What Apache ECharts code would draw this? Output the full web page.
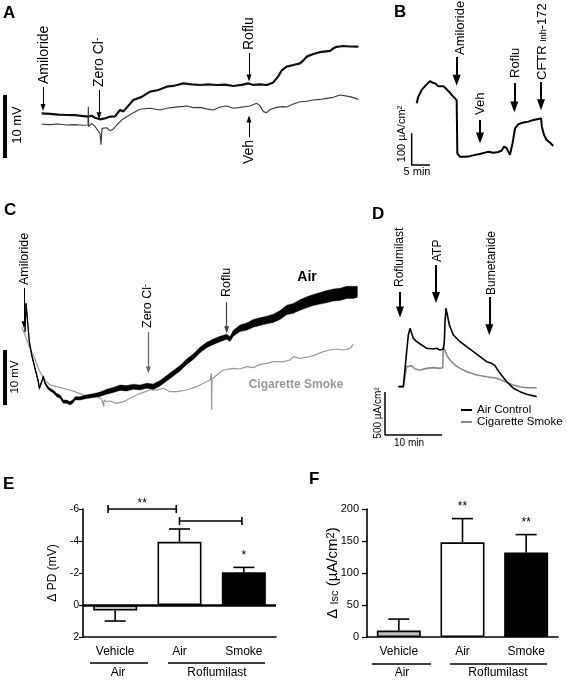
<!DOCTYPE html>
<html><head><meta charset="utf-8">
<script src="https://cdn.jsdelivr.net/npm/echarts@6/dist/echarts.min.js"></script>
<style>html,body{margin:0;padding:0;background:#fff}#c{width:567px;height:682px}</style>
</head><body><div id="c"></div>
<script>
const FONT = '"Liberation Sans", Arial, Helvetica, sans-serif';

// ---------- Panel A: PD traces (x: time, y: mV) ----------
const A_roflu = [[12.5,9.39],[15,9.3],[17.5,9.2],[20,9.13],[22.5,9.1],[25,8.95],[26.5,8.86],[27.5,9.0],[28.5,8.7],[30,8.44],[31.5,8.6],[33,8.86],[34.5,8.9],[36,9.92],[37,9.7],[38,10.3],[40,11.51],[42.5,12.0],[45,12.83],[47.5,13.1],[50,13.62],[52.5,13.8],[55,14.15],[57.5,14.0],[60,13.89],[62.5,14.0],[65,13.89],[67.5,13.95],[70,13.73],[72.5,13.9],[74.5,14.15],[76,13.9],[78,14.0],[80,13.89],[82,14.3],[83.5,15.3],[84.5,16.2],[86,16.8],[88,17.06],[90,17.33],[91,17.8],[92,18.39],[94,18.8],[96,19.1],[99,19.3],[100,19.71],[101,19.95],[103,20.08],[105,20.0],[107.5,19.97]];
const A_veh = [[12.5,7.65],[15,7.6],[17.5,7.7],[20,7.54],[22.5,7.6],[25,7.5],[26.4,7.54],[26.5,10.45],[26.6,7.3],[27.5,7.8],[28.5,7.3],[29,7.01],[30,6.2],[30.3,4.4],[30.6,7.0],[31,7.28],[32,7.1],[33,6.64],[34,6.9],[35,7.54],[36.5,8.33],[38,8.86],[40,9.5],[42,10.03],[45,10.19],[48,9.92],[50,10.2],[52,10.34],[55,10.5],[56,10.56],[58,10.3],[60,10.34],[62,10.1],[64,9.92],[66,10.4],[68,10.56],[70,10.2],[72,10.34],[75,10.56],[77,10.98],[78,10.6],[79,9.66],[80,9.5],[81,10.0],[83,10.34],[85,10.45],[86,10.4],[88,10.87],[90,11.24],[92,11.3],[94,11.51],[96,11.6],[98,11.77],[100,11.93],[102,12.30],[105,12.04],[107.5,11.61]];

// ---------- Panel B: Isc trace (x: min, y: uA/cm2) ----------
const B_isc = [[1.36,195],[1.82,216],[2.73,237],[3.64,249],[5.0,265],[5.73,260],[6.36,258],[7.27,249],[7.73,245],[8.64,249],[9.55,239],[10.45,228],[11.36,216],[12.27,205],[12.45,37],[13.18,26],[14.5,26],[15.9,28],[17.3,32],[18.6,35],[20,39],[20.9,42],[22.3,39],[23.6,41],[24.5,45],[25.2,58],[25.9,53],[26.8,32],[27.5,68],[28.2,116],[29.1,129],[30.5,134],[31.8,137],[33.2,142],[34.5,145],[35.3,147],[35.5,121],[36.1,95],[36.8,79],[37.7,71],[38.6,60]];

// ---------- Panel C: PD traces (x: time, y: mV); Air = [x, mean, noise half-width] ----------
const C_air = [[7.5,15.15,0.1],[7.8,20.3,0.1],[8.0,19.0,0.1],[8.8,13.33,0.15],[9.5,10.91,0.2],[10.5,8.48,0.2],[11.5,6.06,0.2],[11.8,4.85,0.2],[12.5,6.06,0.2],[13.0,6.97,0.2],[13.5,5.8,0.2],[14.5,4.85,0.25],[16,4.24,0.25],[17,3.64,0.3],[18,3.33,0.3],[19,2.42,0.3],[20,2.42,0.3],[21,2.12,0.3],[22,2.55,0.3],[22.5,3.03,0.3],[24,3.03,0.3],[26,3.33,0.35],[28,3.52,0.35],[30,3.76,0.4],[32,4.24,0.45],[34,4.55,0.45],[36,4.97,0.5],[38,4.85,0.5],[40,5.15,0.45],[42,5.0,0.45],[44,5.33,0.45],[46,5.15,0.5],[48,5.76,0.5],[50,6.67,0.5],[52,7.58,0.5],[54,8.48,0.5],[56,9.70,0.5],[58,10.61,0.5],[60,11.82,0.5],[62,12.73,0.5],[64,13.33,0.5],[66,13.82,0.5],[68,14.24,0.45],[69,13.8,0.45],[70,14.85,0.55],[72,15.76,0.6],[74,16.06,0.65],[76,16.67,0.7],[78,16.97,0.7],[80,17.27,0.7],[82,17.58,0.75],[84,18.18,0.8],[86,19.09,0.85],[88,19.39,0.9],[90,20.0,0.95],[92,20.48,1.0],[94,20.91,1.0],[96,21.21,1.05],[98,21.52,1.1],[100,21.82,1.1],[102,21.94,1.1],[104,22.30,1.1],[106,22.3,1.1],[107.2,22.42,1.0]];
const C_smoke = [[6.5,16.06],[7.5,14.55],[9,12.12],[10,10.91],[11.5,8.48],[13,6.67],[15,5.45],[17,5.15],[19,4.85],[21,4.55],[23,4.12],[25,3.64],[27,3.33],[29,3.33],[30.5,2.9],[31,2.73],[31.1,1.52],[31.2,2.73],[32,2.42],[33,2.55],[35,2.12],[37,2.42],[39,3.03],[41,3.64],[43,4.12],[45,4.55],[47,4.55],[49,4.85],[51,4.24],[53,4.24],[56,4.55],[59,5.15],[61,5.76],[63,6.36],[63.4,7.58],[63.5,0.91],[63.6,6.5],[65,7.27],[67,8.18],[70,8.48],[72,8.36],[74,8.79],[76,8.61],[78,9.21],[80,9.39],[82,9.70],[85,9.70],[87,10.0],[88,10.61],[90,10.30],[93,10.61],[95,11.03],[97,11.52],[99,11.82],[101,12.0],[103,11.82],[105,12.12],[106,12.85]];

// ---------- Panel D: Isc traces (x: min, y: uA/cm2) ----------
const D_air = [[2.34,562],[3.22,562],[3.51,581],[3.80,969],[4.09,1163],[4.39,1240],[4.68,1221],[4.97,1124],[5.56,1085],[6.43,1047],[7.31,1008],[8.48,1000],[9.06,1008],[9.36,1027],[9.65,988],[9.94,1008],[10.23,1000],[10.41,1085],[10.53,1318],[10.70,1473],[10.94,1395],[11.29,1279],[11.99,1163],[13.16,1085],[14.33,1027],[15.50,969],[16.67,911],[17.84,853],[18.71,833],[19.30,806],[19.59,775],[20.18,717],[21.35,620],[22.51,543],[23.68,504],[24.85,473],[26.61,446]];
const D_smoke = [[2.34,562],[3.22,562],[3.51,581],[3.80,795],[4.09,814],[4.68,806],[5.26,767],[6.14,756],[7.31,775],[8.48,783],[9.65,775],[10.12,783],[10.23,1027],[10.53,1027],[10.82,930],[11.40,872],[12.28,814],[13.16,775],[14.33,736],[16.08,698],[17.84,678],[19.59,659],[21.35,612],[22.51,581],[23.68,562],[24.85,550],[26.61,550]];

// ---------- Panels E, F: summary bars ----------
const barCategories = ['Vehicle', 'Air', 'Smoke'];
const barColors = ['#bfbfbf', '#ffffff', '#000000'];
const E_means = [0.35, -3.95, -2.05];
const E_sem = [0.65, 0.8, 0.3];
const E_stars = ['', '', '*'];
const E_bracketFrom = [-0.11, 1.0];
const E_bracketTo = [0.95, 1.97];
const E_bracketLevel = [-6, -5.25];
const E_bracketText = ['**', ''];
const F_means = [10, 148, 132];
const F_sem = [18, 37, 28];
const F_stars = ['', '**', '**'];

function hiddenAxis(g, min, max) { return {gridIndex: g, type: 'value', min, max, show: false}; }
function trace(g, data, color, width, name) {
  return {type: 'line', name: name, xAxisIndex: g, yAxisIndex: g, data, symbol: 'none', showSymbol: false,
    lineStyle: {color, width}, itemStyle: {color}, silent: true, animation: false, clip: false, z: 3};
}
function arrow(x, y1, y2, w, h, color, lw) {
  return [{coord: [x, y1], symbol: 'none', lineStyle: {color, width: lw, type: 'solid'}, itemStyle: {color}},
          {coord: [x, y2], symbol: 'triangle', symbolSize: [w, h], itemStyle: {color}}];
}
function arrows(list) {
  return {silent: true, animation: false, label: {show: false}, emphasis: {disabled: true},
    lineStyle: {type: 'solid'}, data: list};
}
function errorSeries(g, means, sems, stars) {
  return {type: 'custom', xAxisIndex: g, yAxisIndex: g, z: 1, silent: true, animation: false,
    data: means.map((m, i) => [i, m, m + (m < 0 ? -1 : 1) * sems[i]]),
    renderItem: (params, api) => {
      const i = api.value(0);
      const p0 = api.coord([i, api.value(1)]);
      const p1 = api.coord([i, api.value(2)]);
      const cw = 10.5;
      const ch = [
        {type: 'line', shape: {x1: p0[0], y1: p0[1], x2: p1[0], y2: p1[1]}, style: {stroke: '#000', lineWidth: 1.6}},
        {type: 'line', shape: {x1: p1[0] - cw, y1: p1[1], x2: p1[0] + cw, y2: p1[1]}, style: {stroke: '#000', lineWidth: 1.6}}
      ];
      const s = stars[params.dataIndex];
      if (s) ch.push({type: 'text', style: {text: s, x: p1[0], y: p1[1] - 6, textAlign: 'center', textVerticalAlign: 'bottom', font: '12px ' + FONT, fill: '#000'}});
      return {type: 'group', children: ch};
    }};
}
function vt(x, yb, text, size, extra) {
  return {type: 'text', x, y: yb, rotation: Math.PI / 2, silent: true,
    style: Object.assign({text, font: size + 'px ' + FONT, fill: '#000', textAlign: 'left', textVerticalAlign: 'middle'}, extra || {})};
}
function vtc(x, yc, text, size, extra) {
  return {type: 'text', x, y: yc, rotation: Math.PI / 2, silent: true,
    style: Object.assign({text, font: size + 'px ' + FONT, fill: '#000', textAlign: 'center', textVerticalAlign: 'middle'}, extra || {})};
}
function ht(x, y, text, font, color, align) {
  return {type: 'text', x, y, silent: true, style: {text, font: font + ' ' + FONT, fill: color || '#000', textAlign: align || 'center', textVerticalAlign: 'middle'}};
}
function hl(x1, x2, y) {
  return {type: 'line', silent: true, shape: {x1, y1: y, x2, y2: y}, style: {stroke: '#000', lineWidth: 1.5}};
}
const supRich = (sz) => ({a: {fontSize: sz, fontFamily: FONT}, s: {fontSize: sz - 4, fontFamily: FONT, verticalAlign: 'top'}, b: {fontSize: sz - 4, fontFamily: FONT, verticalAlign: 'bottom'}});

const chart = echarts.init(document.getElementById('c'), null, {renderer: 'canvas', width: 567, height: 682});

const barBase = (g, means) => ({
  type: 'bar', xAxisIndex: g, yAxisIndex: g, barWidth: 44, z: 2, silent: true, animation: false,
  data: means.map((m, i) => ({value: m, itemStyle: {color: barColors[i], borderColor: '#000', borderWidth: 1.6}}))
});

const option = {
  backgroundColor: '#fff',
  animation: false,
  textStyle: {fontFamily: FONT},
  grid: [
    {left: 0, top: 15, width: 366.7, height: 157.5, outerBoundsMode: 'none'},
    {left: 411.67, top: 38.33, width: 146.67, height: 126.67, outerBoundsMode: 'none'},
    {left: 0, top: 250, width: 366.7, height: 165, outerBoundsMode: 'none'},
    {left: 385, top: 263, width: 171, height: 172, outerBoundsMode: 'none'},
    {left: 83, top: 509, width: 193, height: 128, outerBoundsMode: 'none'},
    {left: 367, top: 509, width: 191, height: 128, outerBoundsMode: 'none'}
  ],
  xAxis: [
    hiddenAxis(0, 0, 110), hiddenAxis(1, 0, 40), hiddenAxis(2, 0, 110), hiddenAxis(3, 0, 30),
    {gridIndex: 4, type: 'category', data: barCategories, axisLine: {onZero: false, lineStyle: {color: '#000', width: 1.6}},
      axisTick: {show: false}, axisLabel: {color: '#000', fontSize: 12, margin: 9, fontFamily: FONT}},
    {gridIndex: 5, type: 'category', data: barCategories, axisLine: {onZero: false, lineStyle: {color: '#000', width: 1.6}},
      axisTick: {show: false}, axisLabel: {color: '#000', fontSize: 12, margin: 9, fontFamily: FONT}}
  ],
  yAxis: [
    hiddenAxis(0, 0, 25), hiddenAxis(1, 0, 400), hiddenAxis(2, 0, 30), hiddenAxis(3, 0, 2000),
    {gridIndex: 4, type: 'value', inverse: true, min: -6, max: 2, interval: 2,
      axisLine: {show: true, lineStyle: {color: '#000', width: 1.6}}, axisTick: {show: true, length: 4, lineStyle: {color: '#000', width: 1.2}},
      axisLabel: {color: '#000', fontSize: 10, margin: 4, fontFamily: FONT}, splitLine: {show: false},
      name: 'Δ PD (mV)', nameLocation: 'middle', nameGap: 24, nameMoveOverlap: false,
      nameTextStyle: {color: '#000', fontSize: 12, fontFamily: FONT}},
    {gridIndex: 5, type: 'value', min: 0, max: 200, interval: 50,
      axisLine: {show: true, lineStyle: {color: '#000', width: 1.6}}, axisTick: {show: true, length: 5, lineStyle: {color: '#000', width: 1.2}},
      axisLabel: {color: '#000', fontSize: 11, margin: 8, fontFamily: FONT}, splitLine: {show: false},
      name: '{a|Δ }{b|Isc}{a| (µA/cm}{s|2}{a|)}', nameLocation: 'middle', nameGap: 27, nameMoveOverlap: false,
      nameTextStyle: {color: '#000', fontSize: 15, fontFamily: FONT, rich: supRich(15)}}
  ],
  legend: {left: 461, top: 404, padding: 0, orient: 'vertical', itemGap: 0, itemWidth: 11, itemHeight: 2, icon: 'rect',
    selectedMode: false, data: ['Air Control', 'Cigarette Smoke'],
    textStyle: {color: '#000', fontSize: 11.5, fontFamily: FONT}},
  series: [
    // A
    Object.assign(trace(0, A_roflu, '#111', 2.2), {markLine: arrows([
      arrow(12.9, 13.57, 10.3, 5, 7, '#000', 1),
      arrow(29.7, 13.1, 9.0, 5, 7, '#000', 1),
      arrow(74.7, 18.97, 15.0, 5, 7, '#000', 1),
      arrow(74.7, 5.63, 8.5, 5, 7, '#000', 1)
    ])}),
    trace(0, A_veh, '#3a3a3a', 1.1),
    trace(0, [[1.5, 2.3], [1.5, 12.3]], '#000', 4),
    // B
    Object.assign(trace(1, B_isc, '#000', 2), {markLine: arrows([
      arrow(12.27, 341, 268, 8, 11, '#000', 2),
      arrow(18.64, 142, 85, 8, 11, '#000', 2),
      arrow(28.0, 259, 183, 8, 11, '#000', 2),
      arrow(35.27, 262, 190, 8, 11, '#000', 2)
    ])}),
    trace(1, [[0, 100], [0, 0], [5, 0]], '#000', 1.5),
    // C
    Object.assign(trace(2, C_smoke, '#999', 1.2), {markLine: arrows([
      arrow(7.2, 23.1, 16.4, 5, 7, '#000', 1),
      arrow(44.5, 15.1, 8.2, 5, 7, '#666', 1.2),
      arrow(68, 20.5, 15.5, 5, 7, '#444', 1.2)
    ])}),
    {type: 'custom', xAxisIndex: 2, yAxisIndex: 2, silent: true, animation: false, z: 4, data: [[0, 0]],
      renderItem: (params, api) => {
        const up = C_air.map(p => api.coord([p[0], p[1] + p[2]]));
        const dn = C_air.map(p => api.coord([p[0], p[1] - p[2]])).reverse();
        return {type: 'polygon', shape: {points: up.concat(dn)}, style: {fill: '#000', stroke: '#000', lineWidth: 0.4}};
      }},
    trace(2, C_air.map(p => [p[0], p[1]]), '#000', 1.2),
    trace(2, [[1.5, 1.8], [1.5, 11.8]], '#000', 4),
    // D
    trace(3, D_smoke, '#888', 1.6, 'Cigarette Smoke'),
    Object.assign(trace(3, D_air, '#000', 1.6, 'Air Control'), {markLine: arrows([
      arrow(2.63, 1663, 1430, 8, 11, '#000', 2),
      arrow(8.95, 1977, 1600, 8, 11, '#000', 2),
      arrow(18.3, 1605, 1225, 8, 11, '#000', 2)
    ])}),
    trace(3, [[0, 500], [0, 0], [10, 0]], '#000', 1.5),
    // E
    Object.assign(barBase(4, E_means), {markLine: {silent: true, symbol: ['none', 'none'], label: {show: false},
      lineStyle: {color: '#000', width: 2.6, type: 'solid'}, emphasis: {disabled: true}, data: [{yAxis: 0}]}}),
    errorSeries(4, E_means, E_sem, E_stars),
    {type: 'custom', xAxisIndex: 4, yAxisIndex: 4, silent: true, animation: false, z: 3,
      data: E_bracketLevel.map((l, i) => [i, l]),
      renderItem: (params, api) => {
        const i = params.dataIndex;
        const band = api.size([1, 0])[0];
        const c0 = api.coord([0, E_bracketLevel[i]]);
        const x0 = c0[0] + E_bracketFrom[i] * band, x1 = c0[0] + E_bracketTo[i] * band, y = c0[1];
        const st = {stroke: '#000', lineWidth: 1.6};
        const ch = [
          {type: 'line', shape: {x1: x0, y1: y, x2: x1, y2: y}, style: st},
          {type: 'line', shape: {x1: x0, y1: y - 4, x2: x0, y2: y + 4}, style: st},
          {type: 'line', shape: {x1: x1, y1: y - 4, x2: x1, y2: y + 4}, style: st}
        ];
        if (E_bracketText[i]) ch.push({type: 'text', style: {text: E_bracketText[i], x: (x0 + x1) / 2, y: y + 1, textAlign: 'center', textVerticalAlign: 'bottom', font: '12px ' + FONT, fill: '#000'}});
        return {type: 'group', children: ch};
      }},
    // F
    barBase(5, F_means),
    errorSeries(5, F_means, F_sem, F_stars)
  ],
  graphic: [
    ht(3, 13, 'A', 'bold 17px', '#000', 'left'),
    ht(394, 12, 'B', 'bold 17px', '#000', 'left'),
    ht(4, 210, 'C', 'bold 17px', '#000', 'left'),
    ht(372, 214, 'D', 'bold 17px', '#000', 'left'),
    ht(3, 484, 'E', 'bold 17px', '#000', 'left'),
    ht(309, 479, 'F', 'bold 17px', '#000', 'left'),
    // A annotations
    vt(44, 84, 'Amiloride', 14),
    vt(99, 87, '{a|Zero Cl}{s|-}', 14, {rich: supRich(14)}),
    vt(249, 50, 'Roflu', 14),
    vt(249, 164, 'Veh', 14),
    vtc(17, 125, '10 mV', 13),
    // B annotations
    vt(460, 55, 'Amiloride', 13),
    vt(480, 115, 'Veh', 13),
    vt(515, 78, 'Roflu', 13),
    vt(542, 80, '{a|CFTR }{b|Inh}{a|-172}', 13, {rich: supRich(13)}),
    vtc(402, 134, '100 µA/cm²', 11),
    ht(417, 172, '5 min', '11px'),
    // C annotations
    vt(25, 285, 'Amiloride', 12.5),
    vt(148, 328, '{a|Zero Cl}{s|-}', 12.5, {rich: supRich(12.5)}),
    vt(227, 297, 'Roflu', 12.5),
    ht(307, 277, 'Air', 'bold 14px'),
    ht(296, 385, 'Cigarette Smoke', 'bold 12px', '#999'),
    vtc(15, 377, '10 mV', 11.5),
    // D annotations
    vt(400, 287, 'Roflumilast', 12),
    vt(438, 262, 'ATP', 12),
    vt(492, 295, 'Bumetanide', 12),
    vtc(378, 413, '500 µA/cm²', 10),
    ht(409, 443, '10 min', '10px'),
    // E group labels
    hl(90, 148, 663), hl(168, 265, 663),
    ht(118, 673, 'Air', '12px'), ht(217, 673, 'Roflumilast', '12px'),
    // F group labels
    hl(372, 431, 664), hl(450, 547, 664),
    ht(402, 673, 'Air', '12px'), ht(498, 673, 'Roflumilast', '12px')
  ]
};
chart.setOption(option);
</script></body></html>
